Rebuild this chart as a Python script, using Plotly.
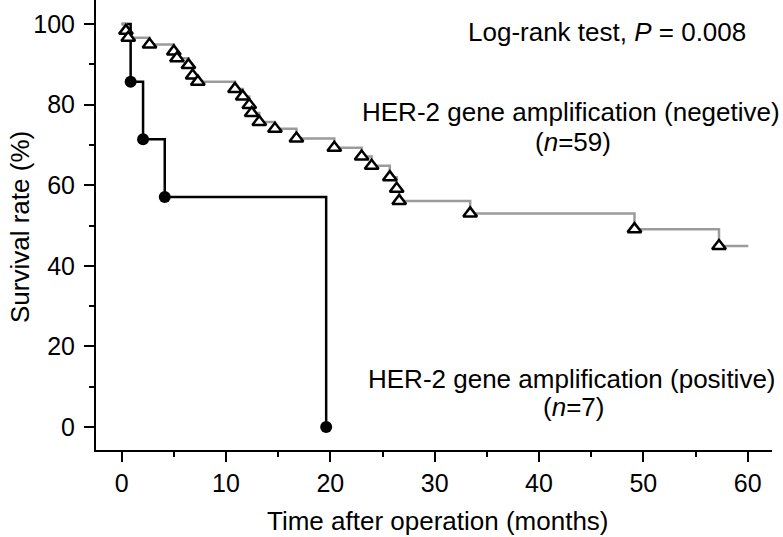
import plotly.graph_objects as go

# HER-2 amplification positive (n=7): event times (months) and survival (%)
pos_time = [0, 0.86, 2.05, 4.13, 19.6]
pos_surv = [100, 85.7, 71.4, 57.1, 0]

# HER-2 amplification negative (n=59): step times and survival after each step
neg_time = [0.41, 0.63, 2.67, 5.0, 5.3, 6.4, 6.8, 7.3, 10.86, 11.6, 12.23, 12.46,
            13.19, 14.69, 16.75, 20.38, 23.0, 23.96, 25.7, 26.36, 26.6, 33.4,
            49.15, 57.25]
neg_surv = [98.3, 96.6, 94.9, 93.2, 91.5, 89.8, 87.2, 85.7, 83.9, 82.0, 79.9, 77.9,
            75.7, 74.0, 71.6, 69.3, 67.1, 64.8, 62.0, 59.1, 56.1, 53.0,
            49.1, 44.9]
neg_end = 60.06

x_ticks = [0, 10, 20, 30, 40, 50, 60]
y_ticks = [0, 20, 40, 60, 80, 100]

FONT = "Liberation Sans, Arial, Helvetica, sans-serif"
GREY = "#9b9b9b"

# plot area in pixels: x 96..772, y 0..450
L, R, T, B = 96, 772, 0, 450

fig = go.Figure()

fig.add_trace(go.Scatter(
    x=pos_time, y=pos_surv, mode="lines", line_shape="hv",
    line=dict(color="black", width=2.5), hoverinfo="skip"))

fig.add_trace(go.Scatter(
    x=[0] + neg_time + [neg_end], y=[100] + neg_surv + [neg_surv[-1]],
    mode="lines", line_shape="hv",
    line=dict(color=GREY, width=2.5), hoverinfo="skip"))

fig.add_trace(go.Scatter(
    x=neg_time, y=neg_surv, mode="markers",
    marker=dict(symbol="triangle-up", size=12, color="white",
                line=dict(color="black", width=2.5))))

fig.add_trace(go.Scatter(
    x=pos_time[1:], y=pos_surv[1:], mode="markers",
    marker=dict(symbol="circle", size=12, color="black")))

fig.update_layout(
    width=783, height=537,
    margin=dict(l=L, r=783 - R, t=T, b=537 - B, autoexpand=False),
    plot_bgcolor="white", paper_bgcolor="white",
    showlegend=False,
    font=dict(family=FONT, size=25, color="black"),
)

fig.update_xaxes(
    range=[-2.46, 62.33], tickvals=x_ticks, ticks="outside", ticklen=10,
    tickwidth=1.5, tickcolor="black", showline=True, linecolor="black",
    linewidth=2, showgrid=False, zeroline=False, automargin=False,
    minor=dict(dtick=5, ticks="outside", ticklen=5, tickwidth=1.5,
               tickcolor="black", showgrid=False),
    tickfont=dict(size=25))

fig.update_yaxes(
    range=[-5.71, 105.96], tickvals=y_ticks, ticks="outside", ticklen=10,
    tickwidth=1.5, tickcolor="black", showline=True, linecolor="black",
    linewidth=2, showgrid=False, zeroline=False, automargin=False,
    minor=dict(dtick=10, ticks="outside", ticklen=5, tickwidth=1.5,
               tickcolor="black", showgrid=False),
    tickfont=dict(size=25), ticklabelstandoff=4)


def note(text, x, y, **kw):
    fig.add_annotation(text=text, x=x, y=y, xref="x", yref="y",
                       showarrow=False, xanchor="center", yanchor="middle",
                       font=dict(family=FONT, size=26, color="black"), **kw)


note("Log-rank test, <i>P</i> = 0.008", 46.5, 98.1)
note("HER-2 gene amplification (negetive)", 43.1, 78.2)
note("(<i>n</i>=59)", 43.3, 70.8)
note("HER-2 gene amplification (positive)", 43.2, 11.9)
note("(<i>n</i>=7)", 43.3, 4.9)

fig.add_annotation(text="Time after operation (months)",
                   x=(438.5 - L) / (R - L), y=(B - 521) / (B - T),
                   xref="paper", yref="paper", showarrow=False,
                   xanchor="center", yanchor="middle",
                   font=dict(family=FONT, size=26, color="black"))
fig.add_annotation(text="Survival rate (%)",
                   x=(20 - L) / (R - L), y=(B - 227) / (B - T),
                   xref="paper", yref="paper", showarrow=False, textangle=-90,
                   xanchor="center", yanchor="middle",
                   font=dict(family=FONT, size=26, color="black"))

# drop the page's default body margin so the figure sits at the window corner
fig.write_html("out.html", config={"displayModeBar": False},
               post_script="document.body.style.margin='0';")
